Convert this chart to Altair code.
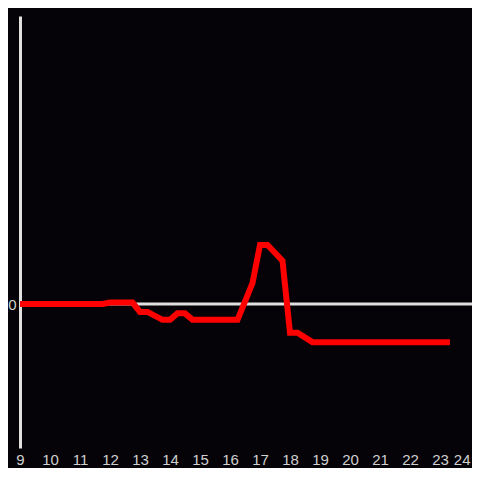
import altair as alt
import pandas as pd

hours = [9.0, 11.75, 12.0, 12.75, 13.0, 13.25, 13.75, 14.0, 14.25, 14.5, 14.75,
         16.25, 16.75, 17.0, 17.25, 17.75, 18.0, 18.25, 18.75, 23.33]
values = [0.0, 0.0, 0.01, 0.01, -0.055, -0.055, -0.11, -0.11, -0.065, -0.065, -0.11,
          -0.11, 0.145, 0.41, 0.41, 0.30, -0.20, -0.20, -0.265, -0.265]
x_ticks = list(range(9, 25))

BG = "#050308"
FONT = "Liberation Sans"

df = pd.DataFrame({"hour": hours, "value": values})

xscale = alt.Scale(domain=[9, 24.0667], nice=False, zero=False)
yscale = alt.Scale(domain=[-1, 2], nice=False, zero=False)

line = alt.Chart(df).mark_line(color="#ff0000", strokeWidth=6, strokeJoin="miter", clip=True).encode(
    x=alt.X("hour:Q", scale=xscale,
            axis=alt.Axis(values=x_ticks, title=None, grid=False, domain=False, ticks=False,
                          labelColor="#d0d0d0", labelFontSize=15, labelFont=FONT,
                          labelPadding=4, labelFlush=False, format="d",
                          labelAlign={"condition": {"test": "datum.value == 24", "value": "right"},
                                      "value": "center"})),
    y=alt.Y("value:Q", scale=yscale,
            axis=alt.Axis(values=[0], title=None, grid=False, domain=True, domainColor="#e0e0e0",
                          domainWidth=3, ticks=False, labelColor="#d0d0d0", labelFontSize=15,
                          labelFont=FONT, labelPadding=4, format="d")),
)

zero = alt.Chart(pd.DataFrame({"z": [0]})).mark_rule(color="#e0e0e0", strokeWidth=3).encode(
    y=alt.Y("z:Q", scale=yscale)
)

chart = alt.layer(zero, line).properties(
    width=452, height=432,
    autosize=alt.AutoSizeParams(type="none"),
    padding={"left": 12, "top": 8, "right": 0, "bottom": 20},
    background=BG,
).configure_view(stroke=None)

chart.save("out.html", embed_options={"renderer": "svg", "actions": False})
